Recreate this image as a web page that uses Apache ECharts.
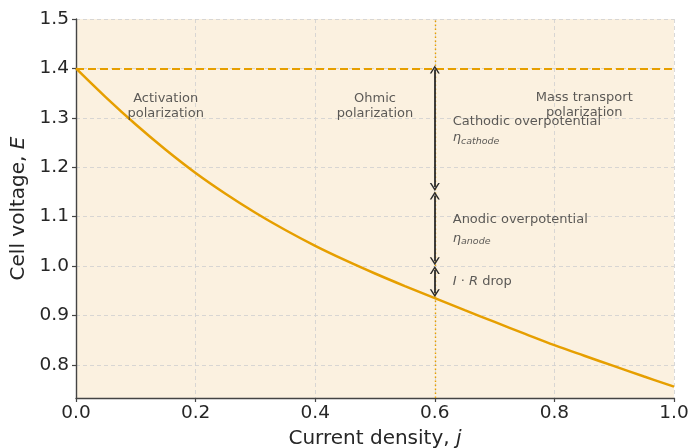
<!DOCTYPE html>
<html><head><meta charset="utf-8">
<script src="https://cdn.jsdelivr.net/npm/echarts@6/dist/echarts.min.js"></script>
<style>html,body{margin:0;padding:0;background:#fff}#c{width:690px;height:448px}</style>
</head><body><div id="c"></div>
<script>
const currentDensity = [0,0.05,0.1,0.15,0.2,0.25,0.3,0.35,0.4,0.45,0.5,0.55,0.6,0.65,0.7,0.75,0.8,0.85,0.9,0.95,1.0];
const cellVoltage = [1.400,1.3415,1.2865,1.2355,1.1885,1.1465,1.108,1.073,1.041,1.012,0.985,0.9595,0.935,0.9107,0.8869,0.8633,0.840,0.8185,0.7975,0.7765,0.756];
const reversibleVoltage = 1.4;
const markJ = 0.6;
const yTicks = [0.8,0.9,1.0,1.1,1.2,1.3,1.4,1.5];
const xTicks = [0,0.2,0.4,0.6,0.8,1.0];
const arrowSegments = [[1.398,1.160],[1.143,1.010],[0.992,0.945]];
const regionLabels = [
  {text:'Activation\npolarization', x:0.15, y:1.324},
  {text:'Ohmic\npolarization', x:0.5, y:1.324},
  {text:'Mass transport\npolarization', x:0.85, y:1.325}
];
const sideLabels = [
  {text:'Cathodic overpotential', x:0.63, y:1.293},
  {text:'{e|η}{s|cathode}', x:0.63, y:1.259},
  {text:'Anodic overpotential', x:0.63, y:1.094},
  {text:'{e|η}{s|anode}', x:0.63, y:1.056},
  {text:'{i|I} · {i|R} drop', x:0.63, y:0.969}
];
const FONT = 'DejaVu Sans';
const ORANGE = '#E69F00';
const TXT = '#333333';
const AX = '#262626';
const chev = 'path://M0,10 L5,0 L10,10 L8.4,10 L5,3.4 L1.6,10 Z';

const chart = echarts.init(document.getElementById('c'), null, {renderer:'canvas'});
chart.setOption({
  animation:false,
  backgroundColor:'#ffffff',
  grid:{left:76, right:16, top:19, bottom:50, outerBoundsMode:'none', containLabel:false, show:true, backgroundColor:'#FBF1E0', borderWidth:0},
  xAxis:{
    type:'value', min:0, max:1,
    name:'{n|Current density, }{i|j}', nameLocation:'middle', nameGap:31,
    nameTextStyle:{rich:{n:{fontFamily:FONT,fontSize:20,color:AX},i:{fontFamily:FONT,fontSize:20,fontStyle:'italic',color:AX}}},
    axisLine:{show:true, lineStyle:{color:'#444', width:1.4}},
    axisTick:{show:true, length:4, lineStyle:{color:'#444', width:1.2}, customValues:xTicks},
    axisLabel:{customValues:xTicks, formatter:v=>v.toFixed(1), fontFamily:FONT, fontSize:18.5, color:AX, margin:6},
    splitLine:{show:true, lineStyle:{color:'#cfcfcf', type:[4,3], width:0.8}}
  },
  yAxis:{
    type:'value', min:0.733, max:1.5,
    name:'{n|Cell voltage, }{i|E}', nameLocation:'middle', nameGap:42, nameRotate:90,
    nameTextStyle:{rich:{n:{fontFamily:FONT,fontSize:20,color:AX},i:{fontFamily:FONT,fontSize:20,fontStyle:'italic',color:AX}}},
    axisLine:{show:true, lineStyle:{color:'#444', width:1.4}},
    axisTick:{show:true, length:4, lineStyle:{color:'#444', width:1.2}, customValues:yTicks},
    axisLabel:{customValues:yTicks, formatter:v=>v.toFixed(1), fontFamily:FONT, fontSize:18.5, color:AX, margin:7},
    splitLine:{show:true, lineStyle:{color:'#cfcfcf', type:[4,3], width:0.8}}
  },
  series:[
    {
      type:'line', data:currentDensity.map((j,i)=>[j,cellVoltage[i]]),
      smooth:0.4, showSymbol:false, lineStyle:{color:ORANGE, width:2.5}, z:5,
      markLine:{
        silent:true, symbol:'none', animation:false,
        label:{show:false},
        data:[
          {yAxis:reversibleVoltage, lineStyle:{color:ORANGE, width:2.2, type:[8,4]}},
          {xAxis:markJ, lineStyle:{color:ORANGE, width:1.4, type:[1.5,2.5]}}
        ]
      }
    },
    {
      type:'line', data:[],
      markLine:{
        silent:true, animation:false, symbol:[chev,chev], symbolSize:[10,8],
        label:{show:false},
        lineStyle:{color:'#2b2b2b', width:1.8, type:'solid'},
        data:arrowSegments.map(s=>[{coord:[markJ,s[0]]},{coord:[markJ,s[1]]}])
      }, z:6
    },
    {
      type:'scatter', symbolSize:0, silent:true, z:7,
      data:regionLabels.map(d=>({value:[d.x,d.y], label:{formatter:d.text}})),
      label:{show:true, position:'inside', align:'center', verticalAlign:'middle', fontFamily:FONT, fontSize:13, lineHeight:15, color:TXT}
    },
    {
      type:'scatter', symbolSize:0, silent:true, z:7,
      data:sideLabels.map(d=>({value:[d.x,d.y], label:{formatter:d.text}})),
      label:{show:true, position:'inside', align:'left', verticalAlign:'middle', fontFamily:FONT, fontSize:13, lineHeight:16, color:TXT,
        rich:{
          e:{fontFamily:FONT, fontSize:13, fontStyle:'italic', color:TXT, lineHeight:16, verticalAlign:'middle'},
          s:{fontFamily:FONT, fontSize:9.5, fontStyle:'italic', color:TXT, lineHeight:16, padding:[7,0,0,0], verticalAlign:'bottom'},
          i:{fontFamily:FONT, fontSize:13, fontStyle:'italic', color:TXT}
        }
      }
    }
  ]
});
</script></body></html>
